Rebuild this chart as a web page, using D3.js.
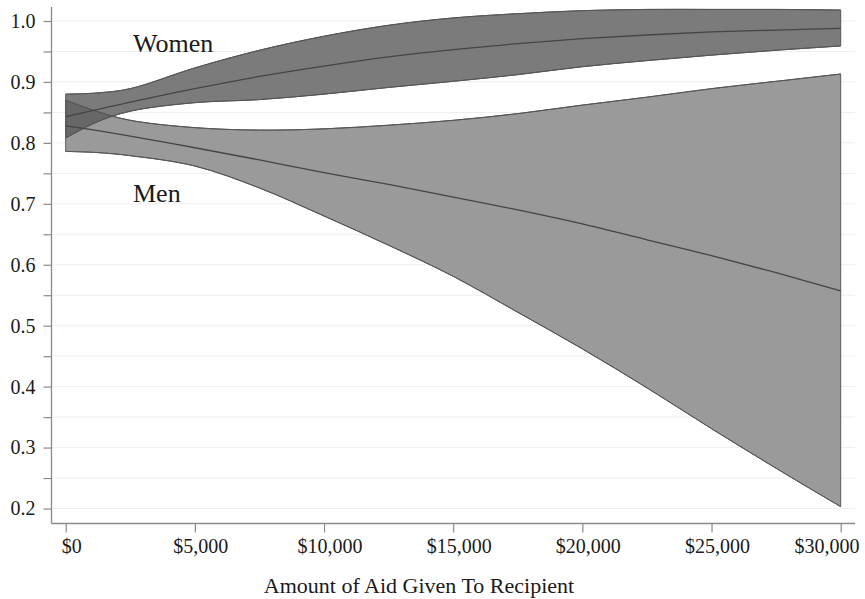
<!DOCTYPE html>
<html>
<head>
<meta charset="utf-8">
<script src="https://cdn.jsdelivr.net/npm/d3@7"></script>
<style>
  body { margin: 0; background: #fff; }
</style>
</head>
<body>
<div id="chart"></div>
<script>
// valores
const aidAmounts = [0, 1250, 2500, 5000, 7500, 10000, 12500, 15000, 17500, 20000, 22500, 25000, 27500, 30000];

const womenUpper = [0.880, 0.882, 0.889, 0.923, 0.952, 0.975, 0.993, 1.005, 1.012, 1.017, 1.019, 1.019, 1.019, 1.018];
const womenMid   = [0.843, 0.855, 0.867, 0.889, 0.909, 0.926, 0.941, 0.953, 0.963, 0.971, 0.977, 0.982, 0.985, 0.988];
const womenLower = [0.808, 0.835, 0.852, 0.866, 0.871, 0.880, 0.891, 0.901, 0.912, 0.925, 0.935, 0.944, 0.952, 0.959];

const menUpper = [0.870, 0.851, 0.837, 0.825, 0.821, 0.823, 0.829, 0.837, 0.848, 0.862, 0.875, 0.889, 0.901, 0.913];
const menMid   = [0.828, 0.820, 0.811, 0.792, 0.772, 0.751, 0.732, 0.711, 0.690, 0.667, 0.641, 0.615, 0.587, 0.557];
const menLower = [0.786, 0.784, 0.779, 0.762, 0.726, 0.680, 0.632, 0.581, 0.522, 0.462, 0.398, 0.331, 0.266, 0.203];

const xTicks = [0, 5000, 10000, 15000, 20000, 25000, 30000];
const yTicks = d3.range(0.2, 1.0001, 0.05);
const yLabelTicks = [0.2, 0.3, 0.4, 0.5, 0.6, 0.7, 0.8, 0.9, 1.0];

const width = 865, height = 599;
const fuente = '"Liberation Serif", "DejaVu Serif", "Times New Roman", serif';
const svg = d3.select('#chart').append('svg').attr('width', width).attr('height', height)
    .style('font-family', fuente);

const x = d3.scaleLinear().domain([0, 30000]).range([65.7, 840.7]);
const y = d3.scaleLinear().domain([0.2, 1.0]).range([508.5, 21]);

const plotLeft = 51.5, plotRight = 855, plotTop = 7, plotBottom = 523.5;

// líneas de cuadrícula
svg.append('g').selectAll('line').data(yTicks).enter().append('line')
    .attr('x1', plotLeft).attr('x2', plotRight)
    .attr('y1', d => y(d)).attr('y2', d => y(d))
    .attr('stroke', '#eeeeee').attr('stroke-width', 1);

const toPts = (lo, hi) => aidAmounts.map((a, i) => ({ a, lo: lo[i], hi: hi[i] }));
const curve = d3.curveCatmullRom.alpha(0.5);

const area = d3.area().curve(curve)
    .x(d => x(d.a)).y0(d => y(d.lo)).y1(d => y(d.hi));
const line = d3.line().curve(curve).x(d => x(d.a)).y(d => y(d.v));
const serie = vals => aidAmounts.map((a, i) => ({ a, v: vals[i] }));

// bandas de confianza
svg.append('path').datum(toPts(menLower, menUpper))
    .attr('d', area).attr('fill', '#9a9a9a').attr('stroke', '#5a5a5a').attr('stroke-width', 1);
svg.append('path').datum(toPts(womenLower, womenUpper))
    .attr('d', area).attr('fill', 'rgb(90,90,90)').attr('fill-opacity', 0.8)
    .attr('stroke', '#555').attr('stroke-width', 1);

// bordes y líneas centrales
[menUpper, menLower, womenUpper, womenLower].forEach(vals => {
    svg.append('path').datum(serie(vals)).attr('d', line)
        .attr('fill', 'none').attr('stroke', '#555').attr('stroke-width', 1);
});
[menMid, womenMid].forEach(vals => {
    svg.append('path').datum(serie(vals)).attr('d', line)
        .attr('fill', 'none').attr('stroke', '#444').attr('stroke-width', 1.3);
});

// ejes
const axisColor = '#8a8a8a';
svg.append('line').attr('x1', plotLeft).attr('x2', plotLeft).attr('y1', plotTop).attr('y2', plotBottom)
    .attr('stroke', axisColor).attr('stroke-width', 1.3);
svg.append('line').attr('x1', plotLeft).attr('x2', plotRight).attr('y1', plotBottom).attr('y2', plotBottom)
    .attr('stroke', axisColor).attr('stroke-width', 1.3);

const yAxis = d3.axisLeft(y).tickValues(yTicks).tickSize(8).tickPadding(8)
    .tickFormat(d => yLabelTicks.some(t => Math.abs(t - d) < 1e-6) ? d3.format('.1f')(d) : '');
const gy = svg.append('g').attr('transform', `translate(${plotLeft},0)`).call(yAxis);
gy.select('.domain').remove();
gy.selectAll('.tick line').attr('stroke', axisColor).attr('stroke-width', 1.2);
gy.selectAll('.tick text').style('font-family', fuente).style('font-size', '20px').attr('fill', '#1a1a1a');

const xAxis = d3.axisBottom(x).tickValues(xTicks).tickSize(9).tickPadding(6)
    .tickFormat(d => '$' + d3.format(',')(d));
const gx = svg.append('g').attr('transform', `translate(0,${plotBottom})`).call(xAxis);
gx.select('.domain').remove();
gx.selectAll('.tick line').attr('stroke', axisColor).attr('stroke-width', 1.2);
gx.selectAll('.tick text').style('font-family', fuente).style('font-size', '20px').attr('fill', '#1a1a1a')
    .attr('dx', 5.5);
// la última etiqueta queda desplazada hacia dentro, como en el original
gx.selectAll('.tick').filter(d => d === 30000).select('text')
    .attr('text-anchor', 'end').attr('dx', 0).attr('x', 859 - x(30000));

// título del eje x
svg.append('text').attr('x', 419).attr('y', 593).attr('text-anchor', 'middle')
    .style('font-size', '22px').attr('fill', '#1a1a1a')
    .text('Amount of Aid Given To Recipient');

// etiquetas de series
svg.append('text').attr('x', 133).attr('y', 52)
    .style('font-size', '26px').attr('fill', '#1a1a1a').text('Women');
svg.append('text').attr('x', 133).attr('y', 201.5)
    .style('font-size', '26px').attr('fill', '#1a1a1a').text('Men');
</script>
</body>
</html>
